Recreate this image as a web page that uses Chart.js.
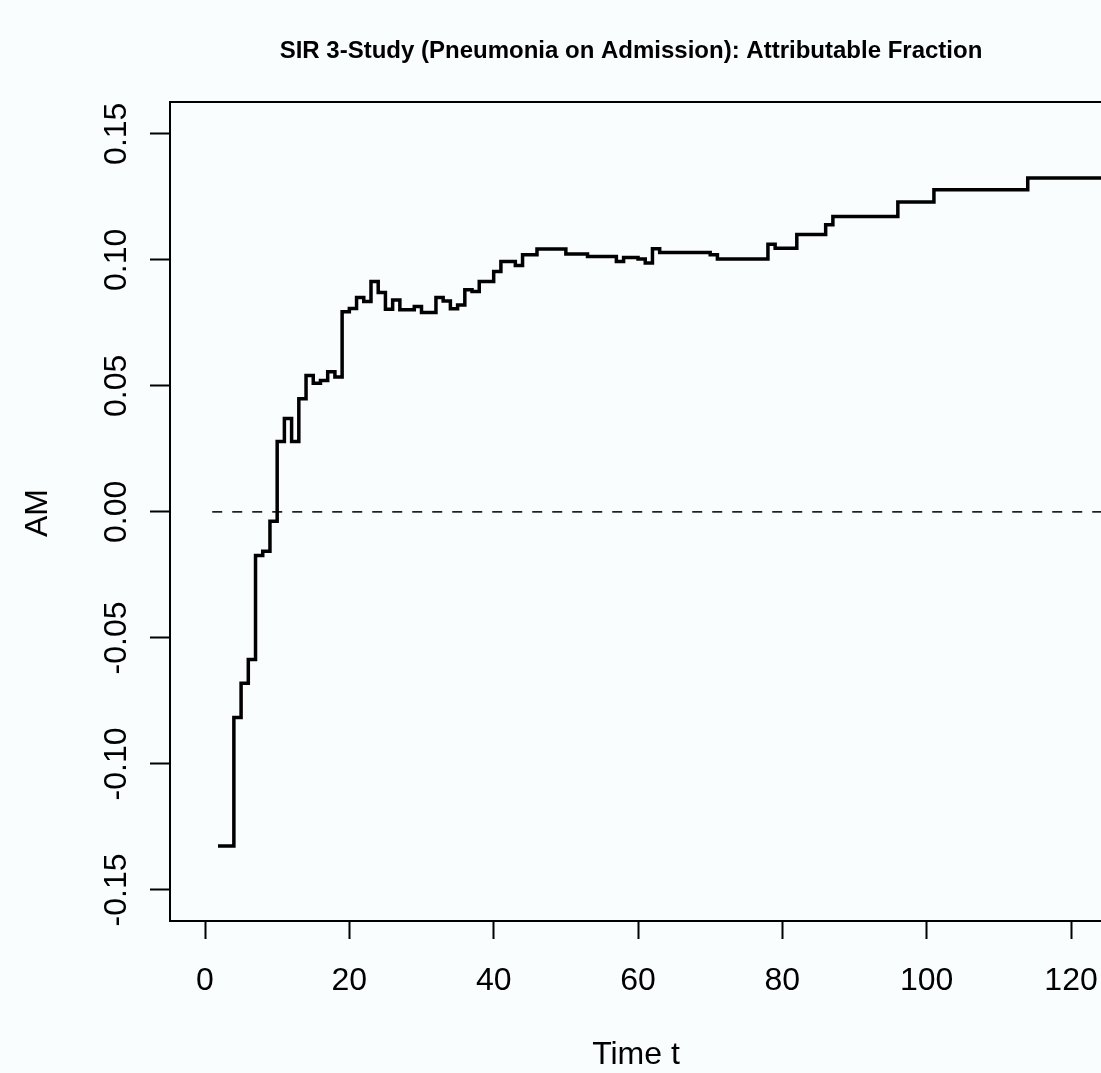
<!DOCTYPE html>
<html>
<head>
<meta charset="utf-8">
<script src="https://cdn.jsdelivr.net/npm/chart.js@4.4.1/dist/chart.umd.min.js"></script>
<style>
  html, body { margin: 0; padding: 0; background: #fafdfe; }
  canvas { display: block; }
</style>
</head>
<body>
<canvas id="chart" width="1101" height="1073"></canvas>
<script>
// step function: value holds from time[i] until time[i+1]
const times = [1.8, 4, 5, 6, 7, 8, 9, 10, 11, 12, 13, 14, 15, 16, 17, 18, 19, 20, 21, 22,
  23, 24, 25, 26, 27, 29, 30, 32, 33, 34, 35, 36, 37, 38, 40, 41, 43, 44, 46, 50,
  53, 57, 58, 60, 61, 62, 63, 70, 71, 78, 79, 82, 86, 87, 96, 101, 114, 173];
const amValues = [-0.1325, -0.0816, -0.068, -0.0586, -0.0173, -0.0156, -0.0037, 0.0279, 0.037, 0.0279,
  0.0449, 0.0541, 0.0510, 0.0521, 0.0556, 0.0535, 0.0794, 0.0807, 0.0850, 0.0835,
  0.0914, 0.0870, 0.0804, 0.0841, 0.0802, 0.0815, 0.0791, 0.0850, 0.0837, 0.0806,
  0.0821, 0.0881, 0.0874, 0.0914, 0.0954, 0.0993, 0.0977, 0.1020, 0.1043, 0.1023,
  0.1013, 0.0993, 0.1009, 0.1003, 0.0987, 0.1044, 0.1029, 0.1020, 0.1003, 0.1062,
  0.1046, 0.1100, 0.1139, 0.1172, 0.1229, 0.1278, 0.1325, 0.1325];

// dashed reference line at AM = 0
const refTimes = [1, 173];
const refValues = [0, 0];

const xTicks = [0, 20, 40, 60, 80, 100, 120];
const xTickLabels = ['0', '20', '40', '60', '80', '100', '120'];
const yTicks = [-0.15, -0.10, -0.05, 0, 0.05, 0.10, 0.15];
const yTickLabels = ['-0.15', '-0.10', '-0.05', '0.00', '0.05', '0.10', '0.15'];

const titleText = 'SIR 3-Study (Pneumonia on Admission): Attributable Fraction';
const xTitle = 'Time t';
const yTitle = 'AM';

const FONT = '"Liberation Sans", Arial, Helvetica, sans-serif';

// R style text and the top frame line
const rText = {
  id: 'rText',
  afterDraw(chart) {
    const { ctx, chartArea, scales } = chart;
    const x = scales.x, y = scales.y;
    ctx.save();
    ctx.strokeStyle = '#000';
    ctx.lineWidth = 2;
    ctx.beginPath();
    ctx.moveTo(chartArea.left - 1, chartArea.top);
    ctx.lineTo(chartArea.right, chartArea.top);
    ctx.stroke();

    ctx.fillStyle = '#000';
    ctx.textAlign = 'center';
    ctx.textBaseline = 'alphabetic';
    ctx.font = 'bold 24px ' + FONT;
    ctx.fillText(titleText, 631, 58);

    ctx.font = '32px ' + FONT;
    xTicks.forEach((v, i) => ctx.fillText(xTickLabels[i], x.getPixelForValue(v), 990));
    ctx.fillText(xTitle, 636, 1064);

    yTicks.forEach((v, i) => {
      ctx.save();
      ctx.translate(126, y.getPixelForValue(v));
      ctx.rotate(-Math.PI / 2);
      ctx.fillText(yTickLabels[i], 0, 0);
      ctx.restore();
    });
    ctx.save();
    ctx.translate(47, 513);
    ctx.rotate(-Math.PI / 2);
    ctx.fillText(yTitle, 0, 0);
    ctx.restore();
    ctx.restore();
  }
};

new Chart(document.getElementById('chart'), {
  type: 'line',
  data: {
    datasets: [
      {
        data: times.map((t, i) => ({ x: t, y: amValues[i] })),
        stepped: true,
        borderColor: '#000',
        borderWidth: 3.5,
        pointRadius: 0,
        borderJoinStyle: 'miter',
        borderCapStyle: 'butt',
        fill: false
      },
      {
        data: refTimes.map((t, i) => ({ x: t, y: refValues[i] })),
        borderColor: '#000',
        borderWidth: 1.5,
        borderDash: [10, 10],
        pointRadius: 0,
        fill: false
      }
    ]
  },
  options: {
    responsive: false,
    animation: false,
    devicePixelRatio: 1,
    layout: { autoPadding: false, padding: { top: 102, left: 0, right: 0, bottom: 0 } },
    plugins: { legend: { display: false }, tooltip: { enabled: false } },
    scales: {
      x: {
        type: 'linear',
        min: -4.85,
        max: 124.15,
        afterBuildTicks: s => { s.ticks = xTicks.map(v => ({ value: v })); },
        afterFit: s => { s.height = 152; },
        ticks: { display: false },
        grid: { drawOnChartArea: false, tickLength: 18, tickWidth: 2, tickColor: '#000' },
        border: { display: true, color: '#000', width: 2 }
      },
      y: {
        min: -0.1623,
        max: 0.1626,
        afterBuildTicks: s => { s.ticks = yTicks.map(v => ({ value: v })); },
        afterFit: s => { s.width = 170; },
        ticks: { display: false },
        grid: { drawOnChartArea: false, tickLength: 20, tickWidth: 2, tickColor: '#000' },
        border: { display: true, color: '#000', width: 2 }
      }
    }
  },
  plugins: [rText]
});
</script>
</body>
</html>
